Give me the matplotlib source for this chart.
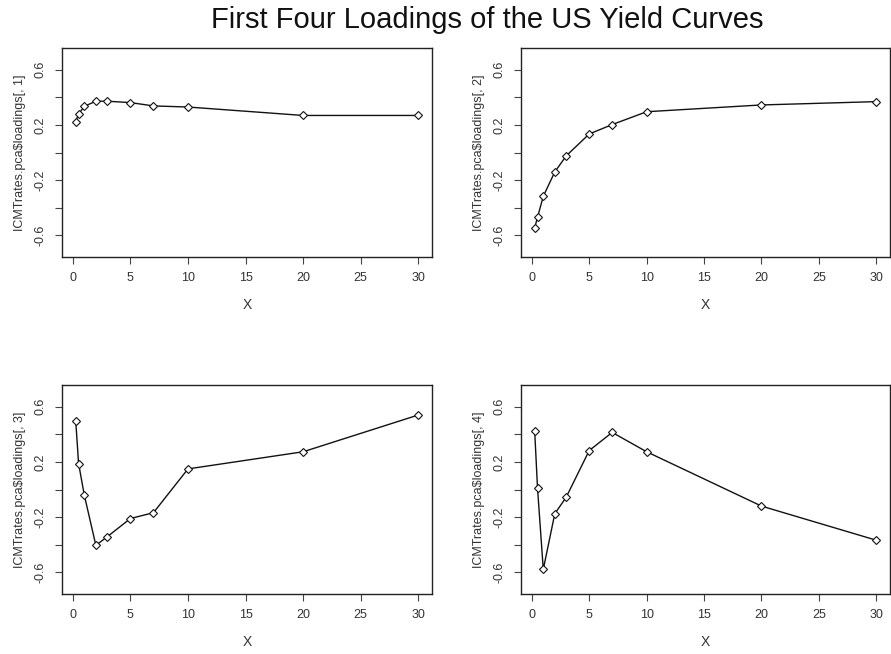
import matplotlib.pyplot as plt

plt.rcParams['font.family'] = ['Liberation Sans', 'DejaVu Sans']

# maturities in years
maturities = [0.25, 0.5, 1, 2, 3, 5, 7, 10, 20, 30]

loading_1 = [0.224, 0.278, 0.334, 0.371, 0.371, 0.361, 0.337, 0.329, 0.268, 0.268]
loading_2 = [-0.546, -0.468, -0.317, -0.141, -0.024, 0.134, 0.202, 0.295, 0.344, 0.368]
loading_3 = [0.498, 0.188, -0.042, -0.404, -0.341, -0.210, -0.168, 0.149, 0.273, 0.539]
loading_4 = [0.425, 0.008, -0.578, -0.176, -0.055, 0.282, 0.413, 0.273, -0.120, -0.367]

loadings = [loading_1, loading_2, loading_3, loading_4]
ylabels = ['ICMTrates.pca\\$loadings[, %d]' % (i + 1) for i in range(4)]
yticks = [-0.6, -0.4, -0.2, 0.0, 0.2, 0.4, 0.6]
ytick_labels = ['-0.6', '', '-0.2', '', '0.2', '', '0.6']
xticks = [0, 5, 10, 15, 20, 25, 30]

W, H = 891, 654
fig = plt.figure(figsize=(W / 100, H / 100), dpi=100)

# panel boxes in pixels: left, right, top, bottom
boxes = [(62, 432, 48, 257), (521, 890, 48, 257),
         (62, 432, 385, 594), (521, 890, 385, 594)]

text_col = '#333333'
for i, (l, r, t, b) in enumerate(boxes):
    ax = fig.add_axes([l / W, 1 - b / H, (r - l) / W, (b - t) / H])
    ax.plot(maturities, loadings[i], color='#111111', lw=1.0,
            marker='D', markersize=4.5, markerfacecolor='white',
            markeredgecolor='#111111', markeredgewidth=0.8)
    ax.set_xlim(-0.94, 31.19)
    ax.set_ylim(-0.756, 0.756)
    ax.set_xticks(xticks)
    ax.set_yticks(yticks)
    ax.set_yticklabels(ytick_labels, rotation=90, va='center')
    ax.tick_params(direction='out', length=5, width=0.8, colors='#444444',
                   labelsize=9, labelcolor=text_col, pad=6)
    ax.set_xlabel('X', fontsize=10, color=text_col, labelpad=10)
    ax.set_ylabel(ylabels[i], fontsize=9, color=text_col, labelpad=6)
    for s in ax.spines.values():
        s.set_color('#222222')
        s.set_linewidth(1.0)

fig.text(487 / W, 1 - 20 / H, 'First Four Loadings of the US Yield Curves',
         ha='center', va='center', fontsize=21, color='#111111')

fig.savefig('out.png', dpi=100)
